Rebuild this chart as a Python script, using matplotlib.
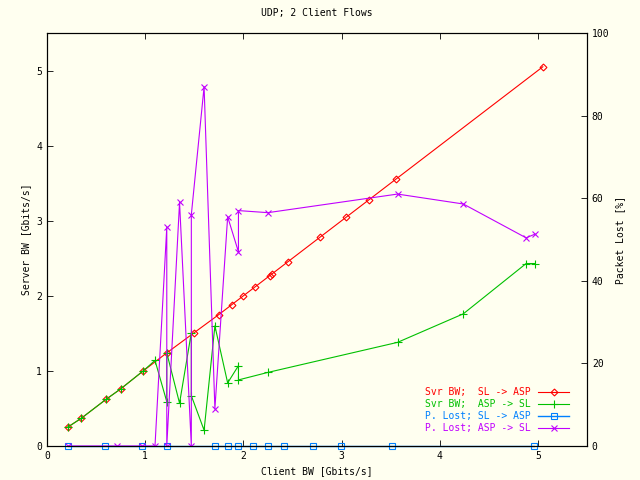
import matplotlib
matplotlib.use("Agg")
import matplotlib.pyplot as plt

# Svr BW; SL -> ASP
red_x = [0.21, 0.35, 0.60, 0.75, 0.98, 1.22, 1.50, 1.75, 1.88, 2.00, 2.12, 2.27, 2.29, 2.45, 2.78, 3.05, 3.28, 3.55, 5.05]
red_y = [0.25, 0.37, 0.62, 0.76, 1.00, 1.24, 1.51, 1.75, 1.88, 2.00, 2.12, 2.27, 2.29, 2.45, 2.78, 3.05, 3.28, 3.55, 5.05]

# Svr BW; ASP -> SL
green_x = [0.21, 0.35, 0.60, 0.75, 0.98, 1.10, 1.22, 1.22, 1.35, 1.47, 1.47, 1.60, 1.71, 1.84, 1.95, 1.95, 2.25, 3.57, 4.24, 4.88, 4.97]
green_y = [0.25, 0.37, 0.62, 0.76, 1.00, 1.14, 0.59, 1.24, 0.57, 1.51, 0.67, 0.21, 1.60, 0.84, 1.07, 0.88, 0.98, 1.38, 1.76, 2.43, 2.43]

# P. Lost; SL -> ASP
blue_x = [0.21, 0.59, 0.97, 1.22, 1.71, 1.84, 1.95, 2.10, 2.25, 2.41, 2.71, 2.99, 3.51, 4.96]
blue_y = [0] * len(blue_x)

# P. Lost; ASP -> SL
purple_x = [0.21, 0.71, 0.97, 1.10, 1.22, 1.22, 1.35, 1.47, 1.47, 1.60, 1.71, 1.84, 1.95, 1.95, 2.25, 3.57, 4.24, 4.88, 4.97]
purple_y = [0, 0, 0, 0, 53, 0, 59, 0, 56, 87, 9, 55.5, 47, 57, 56.5, 61, 58.6, 50.4, 51.3]

BG = "#fffff0"
plt.rcParams["font.family"] = "DejaVu Sans Mono"
plt.rcParams["font.size"] = 7

fig = plt.figure(figsize=(6.4, 4.8), dpi=100, facecolor=BG)
ax = fig.add_axes([47 / 640, 34 / 480, 540 / 640, 413 / 480], facecolor=BG)
ax2 = ax.twinx()

ax.plot(red_x, red_y, color="#ff0000", lw=0.8, marker="D", ms=3.5, mfc="none", mew=0.8, label="Svr BW;  SL -> ASP")
ax.plot(green_x, green_y, color="#00c000", lw=0.8, marker="+", ms=6, mew=0.8, label="Svr BW;  ASP -> SL")
ax2.plot(blue_x, blue_y, color="#0080ff", lw=1.0, marker="s", ms=5, mfc="none", mew=0.8, clip_on=False, label="P. Lost; SL -> ASP")
ax2.plot(purple_x, purple_y, color="#c000ff", lw=0.8, marker="x", ms=5, mew=0.8, label="P. Lost; ASP -> SL")

ax.set_xlim(0, 5.5)
ax.set_ylim(0, 5.5)
ax2.set_ylim(0, 100)
ax.set_xticks(range(6))
ax.set_yticks(range(6))
ax2.set_yticks(range(0, 101, 20))
ax.tick_params(direction="in", top=True, length=4, width=0.6)
ax2.tick_params(direction="in", length=4, width=0.6)
for a in (ax, ax2):
    for s in a.spines.values():
        s.set_linewidth(0.8)

ax.set_title("UDP; 2 Client Flows", fontsize=7, pad=12)
ax.set_xlabel("Client BW [Gbits/s]")
ax.set_ylabel("Server BW [Gbits/s]")
ax2.set_ylabel("Packet Lost [%]")

h1, l1 = ax.get_legend_handles_labels()
h2, l2 = ax2.get_legend_handles_labels()
leg = ax2.legend(h1 + h2, l1 + l2, loc="lower right", bbox_to_anchor=(0.98, 0.015),
                 markerfirst=False, frameon=False, labelcolor="linecolor",
                 handlelength=3.2, labelspacing=0.2, handletextpad=0.8, borderpad=0.2)

fig.savefig("out.png", dpi=100, facecolor=BG)
